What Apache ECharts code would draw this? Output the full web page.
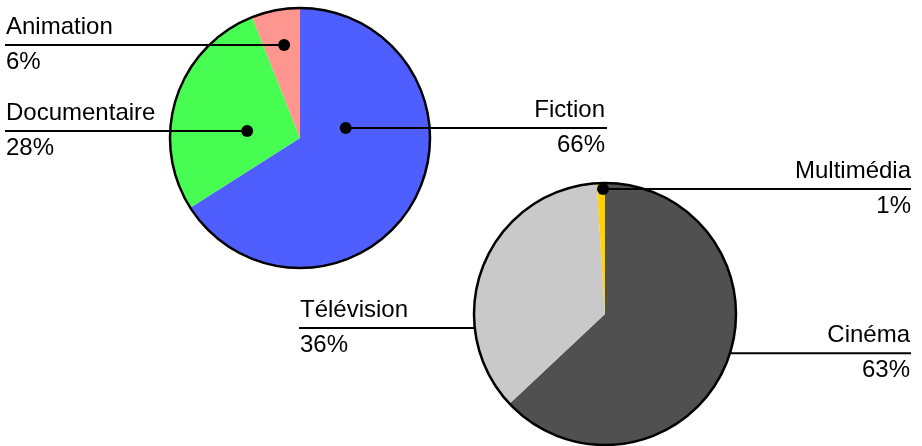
<!DOCTYPE html>
<html>
<head>
<meta charset="utf-8">
<script src="https://cdn.jsdelivr.net/npm/echarts/dist/echarts.min.js"></script>
<style>
    html, body { margin: 0; padding: 0; background: #fff; }
    #pie-chart { width: 922px; height: 446px; }
</style>
</head>
<body>
<div id="pie-chart"></div>
<script>
// data
var genreNames = ['Fiction', 'Documentaire', 'Animation'];
var genreShares = [66, 28, 6];
var mediaNames = ['Cinéma', 'Télévision', 'Multimédia'];
var mediaShares = [63, 36, 1];

// layout
var genrePie = { center: [300, 138], radius: 130 };
var mediaPie = { center: [605, 314], radius: 131 };

// anchor = [share of radius, angle in % of the turn] where the label line starts
var genrePlaces = [
    { anchor: [0.36, 21.6], side: 'right', x: 605, lineEnd: 607, dot: true },
    { anchor: [0.41, 77.1], side: 'left', x: 6, lineEnd: 5, dot: true },
    { anchor: [0.725, 97.3], side: 'left', x: 6, lineEnd: 5, dot: true }
];
var mediaPlaces = [
    { anchor: [1, 29.85], side: 'right', x: 910, lineEnd: 911, dot: false },
    { anchor: [1, 73.3], side: 'left', x: 300, lineEnd: 299, dot: false },
    { anchor: [0.954, 99.75], side: 'right', x: 911, lineEnd: 911, dot: true }
];

var textFont = '"Liberation Sans", Helvetica, Arial, sans-serif';

function anchorPx(pie, a) {
    var t = a[1] / 100 * 2 * Math.PI;
    return [pie.center[0] + a[0] * pie.radius * Math.sin(t),
            pie.center[1] - a[0] * pie.radius * Math.cos(t)];
}

function placeLabels(pie, places) {
    return function (params) {
        var p = places[params.dataIndex];
        var s = anchorPx(pie, p.anchor);
        return {
            x: p.x,
            y: s[1],
            align: p.side,
            verticalAlign: 'middle',
            labelLinePoints: [s, [(s[0] + p.lineEnd) / 2, s[1]], [p.lineEnd, s[1]]]
        };
    };
}

function pieData(names, shares) {
    return names.map(function (n, i) { return { name: n, value: shares[i] }; });
}

// coloured slices, no labels
function pieSeries(pie, names, shares, colors) {
    return {
        type: 'pie',
        z: 1,
        center: pie.center,
        radius: pie.radius,
        startAngle: 90,
        clockwise: true,
        silent: true,
        color: colors,
        data: pieData(names, shares),
        label: { show: false },
        labelLine: { show: false }
    };
}

// same pie, see-through, on top: carries the labels and their lines
function labelSeries(pie, names, shares, places) {
    return {
        type: 'pie',
        z: 5,
        center: pie.center,
        radius: pie.radius,
        startAngle: 90,
        clockwise: true,
        avoidLabelOverlap: false,
        silent: true,
        itemStyle: { color: 'rgba(0,0,0,0)' },
        data: pieData(names, shares),
        label: {
            show: true,
            position: 'outside',
            formatter: function (p) { return '{n|' + p.name + '}\n{n|' + p.value + '%}'; },
            rich: {
                n: { fontFamily: textFont, fontSize: 24, lineHeight: 35, color: '#000' }
            }
        },
        labelLine: { show: true, lineStyle: { color: '#000', width: 2, opacity: 1 } },
        labelLayout: placeLabels(pie, places)
    };
}

function outlineAxis(idx) {
    return {
        polarIndex: idx,
        type: 'value',
        min: 0,
        max: 100,
        startAngle: 90,
        clockwise: true,
        z: 3,
        axisLine: { show: true, lineStyle: { color: '#000', width: 2.5 } },
        axisTick: { show: false },
        axisLabel: { show: false },
        splitLine: { show: false }
    };
}

function dotSeries(idx, places) {
    return {
        type: 'scatter',
        coordinateSystem: 'polar',
        polarIndex: idx,
        symbolSize: 12,
        silent: true,
        z: 10,
        itemStyle: { color: '#000', opacity: 1 },
        data: places.filter(function (p) { return p.dot; }).map(function (p) { return p.anchor; })
    };
}

var myChart = echarts.init(document.getElementById('pie-chart'));

option = {
    animation: false,
    backgroundColor: '#fff',
    polar: [
        { center: genrePie.center, radius: genrePie.radius },
        { center: mediaPie.center, radius: mediaPie.radius }
    ],
    angleAxis: [outlineAxis(0), outlineAxis(1)],
    radiusAxis: [
        { polarIndex: 0, min: 0, max: 1, show: false },
        { polarIndex: 1, min: 0, max: 1, show: false }
    ],
    series: [
        pieSeries(genrePie, genreNames, genreShares, ['#4f5fff', '#47fd52', '#fe958e']),
        pieSeries(mediaPie, mediaNames, mediaShares, ['#505050', '#c9c9c9', '#ffd200']),
        labelSeries(genrePie, genreNames, genreShares, genrePlaces),
        labelSeries(mediaPie, mediaNames, mediaShares, mediaPlaces),
        dotSeries(0, genrePlaces),
        dotSeries(1, mediaPlaces)
    ]
};

myChart.setOption(option);
</script>
</body>
</html>
